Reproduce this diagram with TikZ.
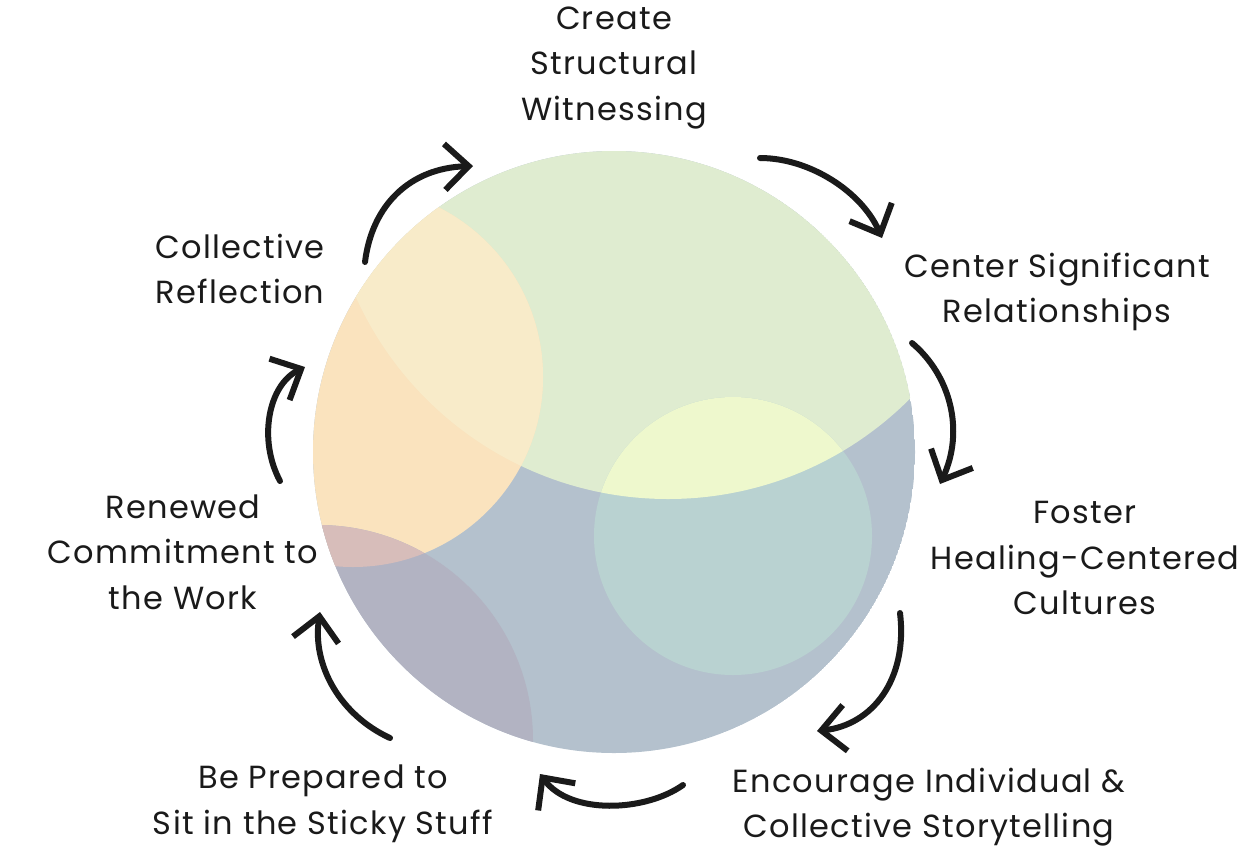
\documentclass[tikz,border=0pt]{standalone}
\usepackage{fontspec}
\setmainfont{Poppins}[LetterSpace=4]
\usetikzlibrary{arrows.meta}
\definecolor{cblue}{HTML}{B4C1CD}
\definecolor{cgreen}{HTML}{DFECD0}
\definecolor{corangeL}{HTML}{FAE3BE}
\definecolor{corangeU}{HTML}{F8EBC9}
\definecolor{cpink}{HTML}{D7BDBA}
\definecolor{cpurple}{HTML}{B2B3C2}
\definecolor{cyellow}{HTML}{EEF8CD}
\definecolor{cteal}{HTML}{B9D2D1}
\definecolor{ink}{HTML}{1A1A1A}
\begin{document}
\begin{tikzpicture}[x=1pt,y=-1pt,
  lbl/.style={font=\fontsize{32}{45.5}\selectfont, align=center, text=ink, inner sep=0pt},
  cyc/.style={draw=ink, line width=6pt, line cap=round,
    -{Straight Barb[length=24pt,width=46pt,line width=6pt]}}]
\useasboundingbox (0,0) rectangle (1253,847);
% circle regions
\begin{scope}
  \clip (614,452) circle[radius=301];
  \fill[cblue] (614,452) circle[radius=301];
  \fill[cgreen] (668,157) circle[radius=342];
  \fill[cteal] (733,536) circle[radius=139];
  \begin{scope}
    \clip (668,157) circle[radius=342];
    \fill[cyellow] (733,536) circle[radius=139];
  \end{scope}
  \fill[corangeL] (353,377) circle[radius=190];
  \begin{scope}
    \clip (668,157) circle[radius=342];
    \fill[corangeU] (353,377) circle[radius=190];
  \end{scope}
  \fill[cpurple] (318,740) circle[radius=215];
  \begin{scope}
    \clip (353,377) circle[radius=190];
    \fill[cpink] (318,740) circle[radius=215];
  \end{scope}
\end{scope}
% labels
\node[lbl] (n1) at (614,68) {Create\\Structural\\Witnessing};
\node[lbl] (n2) at (1057,292) {Center Significant\\Relationships};
\node[lbl] (n3) at (1085,558) {Foster\\Healing-Centered\\Cultures};
\node[lbl] (n4) at (929,807) {Encourage Individual \&\\Collective Storytelling};
\node[lbl] (n5) at (323,804) {Be Prepared to\\Sit in the Sticky Stuff};
\node[lbl] (n6) at (183,552) {Renewed\\Commitment to\\the Work};
\node[lbl] (n7) at (240,269) {Collective\\Reflection};
% arrow end points
\coordinate (a1s) at (365,262); \coordinate (a1e) at (473,166);
\coordinate (a2s) at (760,158); \coordinate (a2e) at (882,238);
\coordinate (a3s) at (912,343); \coordinate (a3e) at (940,484);
\coordinate (a4s) at (900,613); \coordinate (a4e) at (817,731);
\coordinate (a5s) at (683,785); \coordinate (a5e) at (540,774);
\coordinate (a6s) at (390,738); \coordinate (a6e) at (320,612);
\coordinate (a7s) at (280,481); \coordinate (a7e) at (305,367);
\draw[cyc] (a1s) .. controls (372,205) and (410,168) .. (a1e);
\draw[cyc] (a2s) .. controls (810,158) and (862,192) .. (a2e);
\draw[cyc] (a3s) .. controls (950,375) and (965,430) .. (a3e);
\draw[cyc] (a4s) .. controls (908,680) and (872,725) .. (a4e);
\draw[cyc] (a5s) .. controls (645,812) and (570,815) .. (a5e);
\draw[cyc] (a6s) .. controls (340,715) and (312,665) .. (a6e);
\draw[cyc] (a7s) .. controls (258,440) and (268,385) .. (a7e);
\end{tikzpicture}
\end{document}
